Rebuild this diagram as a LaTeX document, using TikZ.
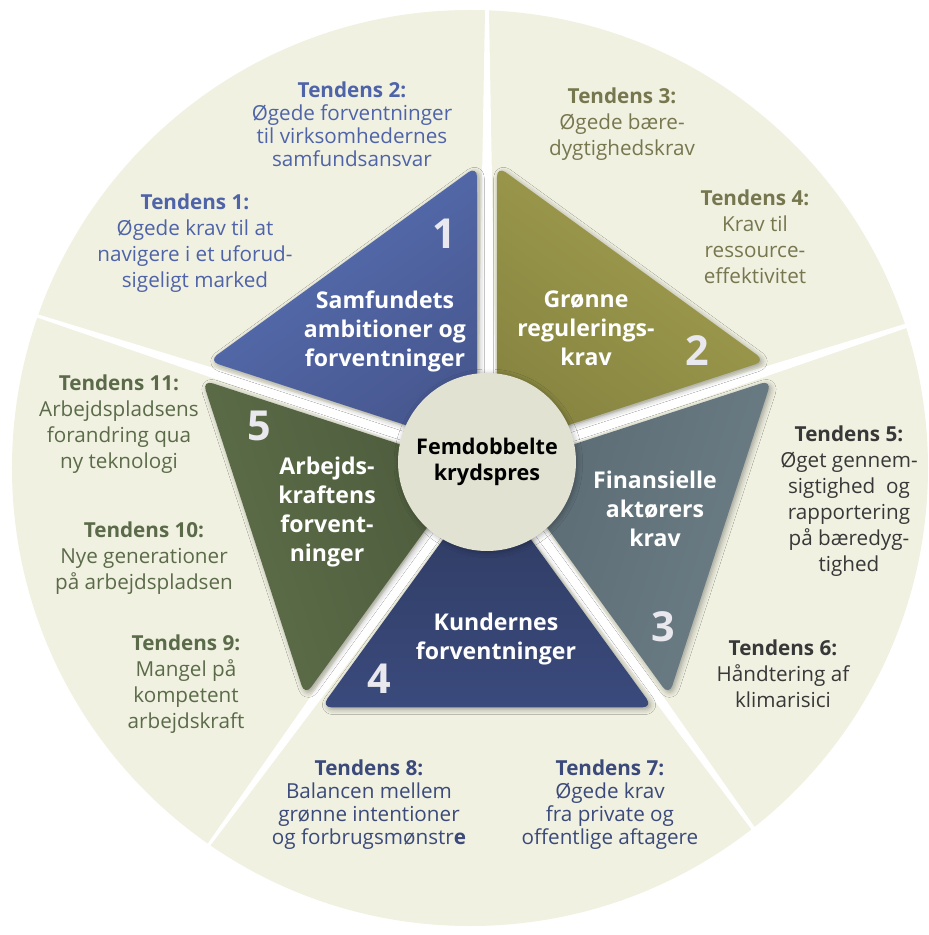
\documentclass[tikz,border=0pt]{standalone}
\usepackage{fontspec}
\setmainfont{Open Sans}
\usepackage{tikz}
\usetikzlibrary{calc,shadows.blur}
\definecolor{ring}{HTML}{F0F1E1}
\definecolor{midte}{HTML}{E1E2D1}
\definecolor{blaa}{HTML}{5870B4}
\definecolor{blaaM}{HTML}{47578F}
\definecolor{oliven}{HTML}{A3A050}
\definecolor{olivenM}{HTML}{868440}
\definecolor{skifer}{HTML}{6C7E86}
\definecolor{skiferM}{HTML}{5A6A72}
\definecolor{marine}{HTML}{3A4A7C}
\definecolor{marineM}{HTML}{2E3A60}
\definecolor{skov}{HTML}{5E6F49}
\definecolor{skovM}{HTML}{4C5A3C}
\definecolor{tBlaa}{HTML}{4F63A8}
\definecolor{tOliven}{HTML}{77774F}
\definecolor{tGraa}{HTML}{383838}
\definecolor{tMarine}{HTML}{3B4A7A}
\definecolor{tSkov}{HTML}{5B6B49}
\definecolor{nummerC}{HTML}{E8E8EE}
\tikzset{
  kile/.style={fill=white},
  felt/.style={rounded corners=8pt,
               blur shadow={shadow xshift=1.5pt, shadow yshift=-1.5pt,
                            shadow blur radius=4pt, shadow opacity=35}},
  tendens/.style={align=center, text=#1, font=\fontsize{15.5}{19.5}\selectfont},
  tendenstaet/.style={align=center, text=#1, font=\fontsize{15.5}{17.25}\selectfont},
  etiket/.style={align=center, text=white, font=\fontsize{17.3}{21.75}\selectfont\bfseries},
  nummer/.style={text=nummerC, font=\fontsize{31}{31}\selectfont\bfseries},
}

\begin{document}
\begin{tikzpicture}[x=0.75pt, y=0.75pt]
    \useasboundingbox (-487,-473) rectangle (441,462);
    \fill[white] (-487,-473) rectangle (441,462);
    % ydre ring
    \fill[ring] (-17,-6) circle[radius=458];
    % hvide kiler mellem felterne
    \foreach \a in {18,90,162,234,306}
      \fill[kile] ($(\a+90:10)$) -- ($(\a:480)+(\a+90:1.5)$)
                 -- ($(\a:480)+(\a-90:1.5)$) -- ($(\a-90:10)$) -- cycle;
    % de fem trekanter
    \foreach \a/\ud/\ind in {126/blaa/blaaM, 54/oliven/olivenM, 342/skifer/skiferM,
                             270/marine/marineM, 198/skov/skovM}
    {
      \pgfmathsetmacro\vinkel{\a-90}
      \path[felt, top color=\ud, bottom color=\ind, shading angle=\vinkel]
        (\a:17) -- ($(\a-36:296)+(\a+54:10)$) -- ($(\a+36:296)+(\a-54:10)$) -- cycle;
    }
    \node[circle, minimum size=133.5pt, fill=midte, inner sep=0pt, align=center,
          font=\fontsize{16.2}{19.5}\selectfont\bfseries,
          blur shadow={shadow xshift=1pt, shadow yshift=-1pt, shadow blur radius=4pt, shadow opacity=30}]
      (midte) at (0,0) {Femdobbelte\\krydspres};

    % feltetiketter
    \node[etiket] (l1) at (-102,131) {Samfundets\\ambitioner og\\forventninger};
    \node[etiket] (l2) at (99,134) {Grønne\\regulerings-\\krav};
    \node[etiket] (l3) at (168,-47) {Finansielle\\aktørers\\krav};
    \node[etiket] (l4) at (9,-177) {Kundernes\\forventninger};
    \node[etiket] (l5) at (-160,-50) {Arbejds-\\kraftens\\forvent-\\ninger};
    \node[nummer] (n1) at (-43,228) {1};
    \node[nummer] (n2) at (210,111) {2};
    \node[nummer] (n3) at (176,-165) {3};
    \node[nummer] (n4) at (-108,-217) {4};
    \node[nummer] (n5) at (-228,36) {5};

    % tendenser
    \node[tendens=tBlaa] (t1) at (-292,219)
      {\textbf{Tendens 1:}\\Øgede krav til at\\navigere i et uforud-\\sigeligt marked};
    \node[tendenstaet=tBlaa] (t2) at (-135,338)
      {\textbf{Tendens 2:}\\Øgede forventninger\\til virksomhedernes\\samfundsansvar};
    \node[tendens=tOliven] (t3) at (135,338)
      {\textbf{Tendens 3:}\\Øgede bære-\\dygtighedskrav};
    \node[tendens=tOliven] (t4) at (268,225)
      {\textbf{Tendens 4:}\\Krav til\\ressource-\\effektivitet};
    \node[tendens=tGraa] (t5) at (362,-39)
      {\textbf{Tendens 5:}\\Øget gennem-\\sigtighed\ \ og\\rapportering\\på bæredyg-\\tighed};
    \node[tendens=tGraa] (t6) at (296,-212)
      {\textbf{Tendens 6:}\\Håndtering af\\klimarisici};
    \node[tendenstaet=tMarine] (t7) at (123,-343)
      {\textbf{Tendens 7:}\\Øgede krav\\fra private og\\offentlige aftagere};
    \node[tendenstaet=tMarine] (t8) at (-118,-343)
      {\textbf{Tendens 8:}\\Balancen mellem\\grønne intentioner\\og forbrugsmønstr\textbf{e}};
    \node[tendens=tSkov] (t9) at (-301,-222)
      {\textbf{Tendens 9:}\\Mangel på\\kompetent\\arbejdskraft};
    \node[tendens=tSkov] (t10) at (-343,-96)
      {\textbf{Tendens 10:}\\Nye generationer\\på arbejdspladsen};
    \node[tendens=tSkov] (t11) at (-368,38)
      {\textbf{Tendens 11:}\\Arbejdspladsens\\forandring qua\\ny teknologi};
  \end{tikzpicture}
\end{document}
